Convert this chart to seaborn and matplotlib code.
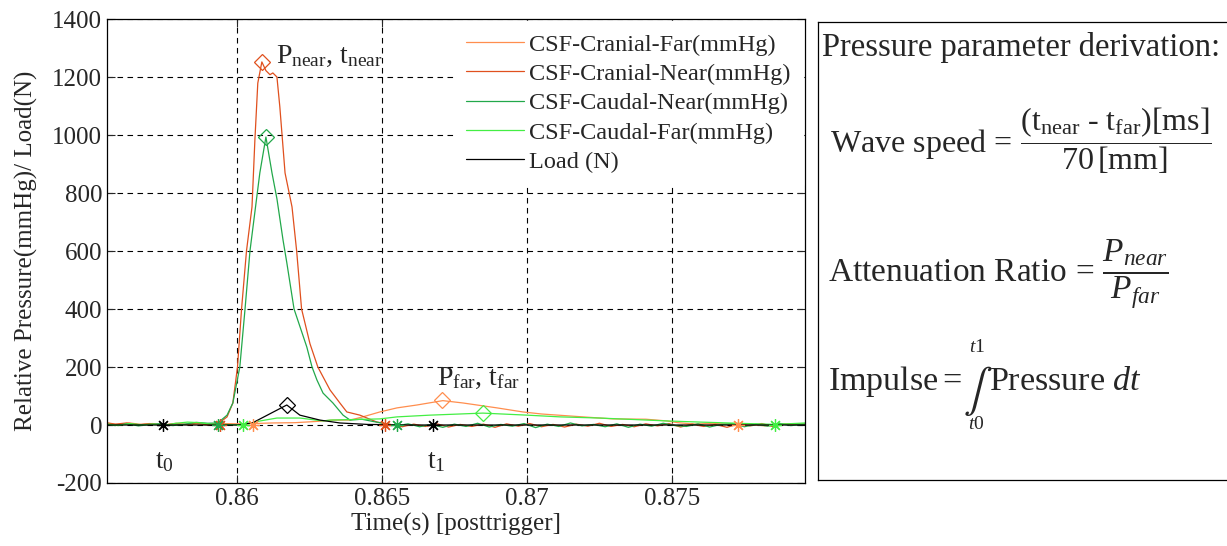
import matplotlib
matplotlib.use("Agg")
import matplotlib.pyplot as plt
import seaborn as sns

# ---- data (time in s, pressure in mmHg / load in N) ----
t_cr_far = [0.8555, 0.8559, 0.8563, 0.8567, 0.8571, 0.8575, 0.8579, 0.8583, 0.8587, 0.8591,
            0.8595, 0.8600, 0.86055, 0.8612, 0.8620, 0.8627, 0.86331, 0.8639, 0.86434, 0.86493,
            0.86552, 0.86621, 0.8671, 0.86779, 0.86897, 0.86986, 0.8705, 0.87193, 0.87297, 0.8741,
            0.87483, 0.8752, 0.8758, 0.8764, 0.8770, 0.87728, 0.8776, 0.8782, 0.8788, 0.8796]
v_cr_far = [6, 1, 7, 2, 5, 0, 6, 1, 4, 2,
            5, 4, 5, 7, 8, 12, 17, 17, 28, 45,
            59, 69, 84, 76, 59, 45, 38, 28, 21, 20,
            14, 8, 3, 6, 2, 0, 4, -3, 3, 2]

t_cr_near = [0.8555, 0.8558, 0.8562, 0.8566, 0.8570, 0.8574, 0.8578, 0.8582, 0.8586, 0.8590,
             0.8594, 0.85966, 0.85986, 0.86002, 0.86016, 0.86033, 0.86052, 0.86062, 0.86072,
             0.86086, 0.86100, 0.86114, 0.86124, 0.86138, 0.86148, 0.86166, 0.8619, 0.86206, 0.86223,
             0.86252, 0.86279, 0.86321, 0.86355, 0.86379, 0.86424, 0.86483, 0.8653, 0.8657, 0.8661,
             0.8665, 0.8669, 0.8673, 0.8677, 0.8681, 0.8685, 0.8689, 0.8693, 0.8697, 0.8701,
             0.8705, 0.8709, 0.8713, 0.8717, 0.8721, 0.8725, 0.8729, 0.8733, 0.8737, 0.8741,
             0.8745, 0.8749, 0.8753, 0.8757, 0.8761, 0.8765, 0.8769, 0.8773, 0.8777, 0.8781,
             0.8785, 0.8789, 0.8793, 0.8796]
v_cr_near = [8, 3, 7, 1, 5, -1, 4, 2, 6, 0,
             8, 28, 76, 200, 400, 600, 752, 983, 1179,
             1252, 1222, 1208, 1214, 1200, 1097, 869, 752, 600, 400,
             280, 200, 121, 76, 45, 34, 10, 2, -6, 3,
             -5, 4, -7, 2, -5, 3, -8, 4, -4, 5,
             -6, 2, -7, 3, -4, 6, -5, 2, -6, 4,
             -3, 5, -7, 3, -5, 2, -8, 4, -3, 5,
             -6, 3, 4, 2]

t_cd_near = [0.8555, 0.8558, 0.8562, 0.8566, 0.8570, 0.8574, 0.8578, 0.8582, 0.8586, 0.8590,
             0.85934, 0.85966, 0.85986, 0.8601, 0.86028, 0.86045, 0.86079, 0.8610, 0.86121,
             0.86138, 0.86159, 0.86172, 0.86197, 0.86241, 0.86259, 0.86276, 0.86297, 0.86331,
             0.86366, 0.8639, 0.8643, 0.8647, 0.8651, 0.8655, 0.8659, 0.8663, 0.8667, 0.8671,
             0.8675, 0.8679, 0.8683, 0.8687, 0.8691, 0.8695, 0.8699, 0.8703, 0.8707, 0.8711,
             0.8715, 0.8719, 0.8723, 0.8727, 0.8731, 0.8735, 0.8739, 0.8743, 0.8747, 0.8751,
             0.8755, 0.8759, 0.8763, 0.8767, 0.8771, 0.8775, 0.8779, 0.8783, 0.8787, 0.8791,
             0.8796]
v_cd_near = [3, -2, 4, -3, 2, 5, -2, 3, 9, 6,
             7, 34, 76, 200, 400, 600, 869, 993, 869,
             780, 638, 560, 400, 269, 200, 155, 110, 76,
             34, 17, 20, 12, 5, -3, 4, -6, 2, -8,
             3, -5, 6, -7, 2, -4, 5, -9, 3, -5,
             7, -3, 2, -6, 4, -8, 3, -4, 6, -2,
             -5, 4, -7, 2, 5, -6, 3, -4, 6, -2,
             4]

t_cd_far = [0.8555, 0.8559, 0.8563, 0.8567, 0.8571, 0.8575, 0.8579, 0.8583, 0.8587, 0.8591,
            0.8595, 0.86021, 0.8608, 0.86138, 0.86217, 0.86297, 0.86321, 0.86493, 0.86552, 0.86666,
            0.86848, 0.8700, 0.87114, 0.8725, 0.87483, 0.8760, 0.87855, 0.8796]
v_cd_far = [4, -2, 5, 1, 3, -1, 6, 10, 8, 3,
            2, 0, 14, 24, 24, 14, 17, 21, 28, 34,
            41, 34, 28, 24, 14, 10, 2, 7]

t_load = [0.8555, 0.8575, 0.8600, 0.86055, 0.86172, 0.86217, 0.86286, 0.86355, 0.8645, 0.8660,
          0.8680, 0.8700, 0.8720, 0.8740, 0.8760, 0.8780, 0.8796]
v_load = [0, 0, 0, 8, 69, 34, 17, 7, 2, 0,
          0, 0, 0, 0, 0, 0, 0]

# peak (diamond) and t0/t1 (asterisk) picks per channel
peak_t = [0.86707, 0.86086, 0.86100, 0.86848, 0.86172]
peak_v = [86, 1252, 993, 41, 69]
t0_t = [0.86055, 0.85941, 0.85934, 0.86021, 0.85745]
t1_t = [0.87728, 0.86510, 0.86552, 0.87855, 0.86676]

names = ["CSF-Cranial-Far(mmHg)", "CSF-Cranial-Near(mmHg)", "CSF-Caudal-Near(mmHg)",
         "CSF-Caudal-Far(mmHg)", "Load (N)"]
colors = ["#FF8E4E", "#E0501E", "#22A84A", "#44EE44", "#000000"]
series_t = [t_cr_far, t_cr_near, t_cd_near, t_cd_far, t_load]
series_v = [v_cr_far, v_cr_near, v_cd_near, v_cd_far, v_load]

x_ticks = [0.86, 0.865, 0.87, 0.875]
y_ticks = [-200, 0, 200, 400, 600, 800, 1000, 1200, 1400]

sns.set_style("ticks")
plt.rcParams["font.family"] = ["Liberation Serif", "DejaVu Serif"]
plt.rcParams["mathtext.fontset"] = "custom"
plt.rcParams["mathtext.rm"] = "Liberation Serif"
plt.rcParams["mathtext.it"] = "Liberation Serif:italic"
plt.rcParams["mathtext.bf"] = "Liberation Serif:bold"
plt.rcParams["axes.unicode_minus"] = False

W, H = 1227, 546
fig = plt.figure(figsize=(W / 100, H / 100), dpi=100)
ax = fig.add_axes([107 / W, 1 - 483 / H, (805 - 107) / W, (483 - 19) / H])

for name, col, tt, vv in zip(names, colors, series_t, series_v):
    assert len(tt) == len(vv), name
    sns.lineplot(x=tt, y=vv, color=col, lw=0.9, label=name, ax=ax, estimator=None)

for i, col in enumerate(colors):
    ax.plot([peak_t[i]], [peak_v[i]], marker="D", ms=8, mfc="none", mec=col, mew=0.9, ls="none")
    ax.plot([t0_t[i], t1_t[i]], [0, 0], marker=(8, 2, 0), ms=9, color=col, mew=0.9, ls="none")

ax.set_xlim(0.85552, 0.87959)
ax.set_ylim(-200, 1400)
ax.set_xticks(x_ticks)
ax.set_xticklabels(["0.86", "0.865", "0.87", "0.875"])
ax.set_yticks(y_ticks)
ax.tick_params(direction="in", top=True, right=True, length=6, labelsize=18, width=0.8)
ax.grid(True, color="black", ls=(0, (5, 4)), lw=0.8)
for s in ax.spines.values():
    s.set_linewidth(0.9)
    s.set_color("black")
ax.set_xlabel("Time(s) [posttrigger]", fontsize=18, labelpad=2)
ax.set_ylabel("Relative Pressure(mmHg)/ Load(N)", fontsize=18, labelpad=10)

leg = ax.legend(loc="upper right", fontsize=17.5, frameon=True, fancybox=False,
                handlelength=2.4, handletextpad=0.2, labelspacing=0.3,
                borderaxespad=0.1, borderpad=0.5)
leg.get_frame().set_edgecolor("white")
leg.get_frame().set_alpha(1)

ax.text(0.86136, 1248, r"P$_{\mathrm{near}}$, t$_{\mathrm{near}}$", fontsize=20, va="baseline")
ax.text(0.86690, 138, r"P$_{\mathrm{far}}$, t$_{\mathrm{far}}$", fontsize=20, va="baseline")
ax.text(0.85717, -148, r"t$_0$", fontsize=20, va="baseline")
ax.text(0.86655, -148, r"t$_1$", fontsize=20, va="baseline")

# right-hand panel with the parameter formulas
pan = fig.add_axes([818 / W, 1 - 480 / H, 0.4, (480 - 22) / H])
pan.set_xticks([])
pan.set_yticks([])
for s in pan.spines.values():
    s.set_color("black")
    s.set_linewidth(0.9)


def ftxt(x, y, s, **kw):
    kw.setdefault("fontsize", 23.5)
    kw.setdefault("va", "baseline")
    fig.text(x / W, 1 - y / H, s, **kw)


ftxt(822, 56, "Pressure parameter derivation:")
ftxt(830, 152, r"Wave speed$\,=\,\dfrac{(\mathrm{t}_{\mathrm{near}}\ \text{-}\ \mathrm{t}_{\mathrm{far}})[\mathrm{ms}]}{70\,[\mathrm{mm}]}$",
     fontsize=23)
ftxt(828, 283, r"Attenuation Ratio$\,=\,\dfrac{P_{near}}{P_{far}}$", fontsize=24)
ftxt(828, 390, "Impulse$=$", fontsize=24.5)
ftxt(963, 402, r"$\int$", fontsize=31, math_fontfamily="stix")
ftxt(969, 352, r"$t1$", fontsize=14)
ftxt(968, 429, r"$t0$", fontsize=14)
ftxt(989, 390, r"Pressure $dt$", fontsize=24.5)

fig.savefig("out.png", dpi=100)
